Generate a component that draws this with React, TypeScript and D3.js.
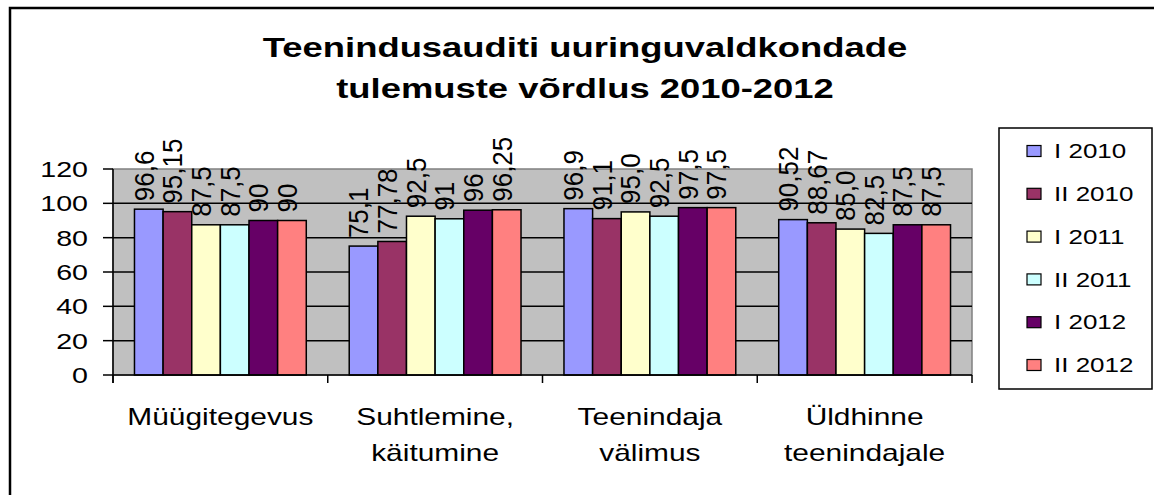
import React from "react";
import * as d3 from "d3";

const categories = [["Müügitegevus"], ["Suhtlemine,", "käitumine"], ["Teenindaja", "välimus"], ["Üldhinne", "teenindajale"]];
const seriesNames = ["I 2010", "II 2010", "I 2011", "II 2011", "I 2012", "II 2012"];
const seriesColors = ["#9999FF", "#993366", "#FFFFCC", "#CCFFFF", "#660066", "#FF8080"];
const values = [
  [96.6, 95.15, 87.5, 87.5, 90, 90],
  [75.1, 77.78, 92.5, 91, 96, 96.25],
  [96.9, 91.1, 95.0, 92.5, 97.5, 97.5],
  [90.52, 88.67, 85.0, 82.5, 87.5, 87.5],
];
const labels = [
  ["96,6", "95,15", "87,5", "87,5", "90", "90"],
  ["75,1", "77,78", "92,5", "91", "96", "96,25"],
  ["96,9", "91,1", "95,0", "92,5", "97,5", "97,5"],
  ["90,52", "88,67", "85,0", "82,5", "87,5", "87,5"],
];
const yTicks = [0, 20, 40, 60, 80, 100, 120];
const titleLines = ["Teenindusauditi uuringuvaldkondade", "tulemuste võrdlus 2010-2012"];

const SX = 1.3;
const FONT = "'Liberation Sans', Arial, sans-serif";

export default function App() {
  const left = 113, right = 972, top = 169, bottom = 375;
  const y = d3.scaleLinear().domain([0, 120]).range([bottom, top]);
  const xCat = d3.scaleBand<number>().domain(d3.range(categories.length)).range([left, right]).padding(0);
  const xSer = d3.scaleBand<number>().domain(d3.range(seriesNames.length)).range([0, xCat.bandwidth()]).paddingInner(0).paddingOuter(0.75);

  const legX = 999, legY = 128, legW = 153, legH = 261;
  const legRow0 = 151, legStep = 42.8;

  return (
    <div style={{ position: "fixed", left: 0, top: 0 }}>
      <svg width={1154} height={495} style={{ display: "block", background: "#fff" }} fontFamily={FONT}>
        <rect x={10} y={8} width={1300} height={700} fill="#fff" stroke="#000" strokeWidth={2.5} />
        {titleLines.map((t, i) => (
          <text key={i} transform={`translate(585,${57 + i * 41}) scale(${SX},1)`} textAnchor="middle" fontSize={28} fontWeight="bold">{t}</text>
        ))}
        <rect x={left} y={top} width={right - left} height={bottom - top} fill="#C0C0C0" stroke="#808080" strokeWidth={1.5} />
        {yTicks.filter(t => t > 0 && t < 120).map(t => (
          <line key={t} x1={left} x2={right} y1={y(t)} y2={y(t)} stroke="#000" strokeWidth={1.5} />
        ))}
        {values.map((row, ci) => row.map((v, si) => {
          const bx = (xCat(ci) as number) + (xSer(si) as number);
          return (
            <rect key={`${ci}-${si}`} x={bx} y={y(v)} width={xSer.bandwidth()} height={bottom - y(v)} fill={seriesColors[si]} stroke="#000" strokeWidth={1.5} />
          );
        }))}
        {values.map((row, ci) => row.map((v, si) => {
          const cx = (xCat(ci) as number) + (xSer(si) as number) + xSer.bandwidth() / 2 - 5;
          return (
            <text key={`l${ci}-${si}`} transform={`translate(${cx},${y(v) - 8}) scale(1.08,1) rotate(-90)`} dy="0.35em" fontSize={26}>{labels[ci][si]}</text>
          );
        }))}
        <line x1={left} x2={left} y1={top} y2={bottom + 8} stroke="#000" strokeWidth={1.5} />
        <line x1={left} x2={right} y1={bottom} y2={bottom} stroke="#000" strokeWidth={1.5} />
        {yTicks.map(t => (
          <g key={t}>
            <line x1={left - 10} x2={left} y1={y(t)} y2={y(t)} stroke="#000" strokeWidth={1.5} />
            <text transform={`translate(${left - 25},${y(t)}) scale(${SX},1)`} dy="0.36em" textAnchor="end" fontSize={22}>{t}</text>
          </g>
        ))}
        {d3.range(categories.length + 1).map(i => {
          const xx = i < categories.length ? (xCat(i) as number) : right;
          return <line key={i} x1={xx} x2={xx} y1={bottom} y2={bottom + 8} stroke="#000" strokeWidth={1.5} />;
        })}
        {categories.map((lines, ci) => (
          lines.map((ln, li) => (
            <text key={`c${ci}-${li}`} transform={`translate(${(xCat(ci) as number) + xCat.bandwidth() / 2},${425 + li * 36}) scale(${SX},1)`} textAnchor="middle" fontSize={23}>{ln}</text>
          ))
        ))}
        <rect x={legX} y={legY} width={legW} height={legH} fill="#fff" stroke="#000" strokeWidth={1.5} />
        {seriesNames.map((s, i) => (
          <g key={s}>
            <rect x={1027} y={legRow0 + i * legStep - 5.5} width={14} height={11} fill={seriesColors[i]} stroke="#000" strokeWidth={1.2} />
            <text transform={`translate(1054,${legRow0 + i * legStep}) scale(${SX},1)`} dy="0.36em" fontSize={20}>{s}</text>
          </g>
        ))}
      </svg>
    </div>
  );
}
